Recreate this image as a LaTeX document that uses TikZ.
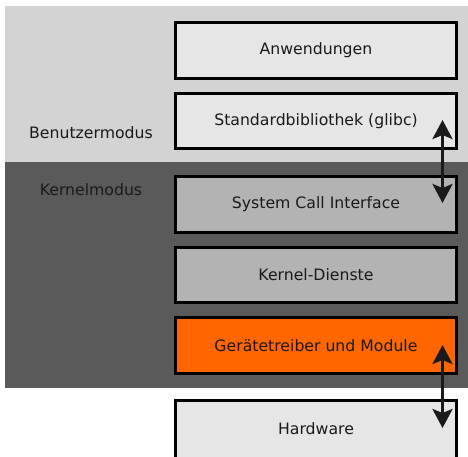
\documentclass[tikz,border=0pt]{standalone}
\usepackage{fontspec}
\setmainfont{DejaVu Sans}
\usepackage{xcolor}
\usepackage{tikz}
\usetikzlibrary{arrows.meta}
\usetikzlibrary{positioning}
\definecolor{userbg}{HTML}{D3D3D3}
\definecolor{kernbg}{HTML}{5A5A5A}
\definecolor{userbox}{HTML}{E6E6E6}
\definecolor{kernbox}{HTML}{B3B3B3}
\definecolor{drvbox}{HTML}{FF6600}
\definecolor{ink}{HTML}{1A1A1A}
\tikzset{>={Stealth[length=19pt, width=20pt, inset=4pt]}}
\tikzstyle{layer} = [rectangle, draw=black, line width=3pt, outer sep=0pt, minimum width=281pt, minimum height=55.5pt, text=ink, font=\fontsize{15.7}{18}\selectfont]
\tikzstyle{mode} = [draw=none, text=ink, font=\fontsize{15.7}{18}\selectfont]
\tikzstyle{call} = [<->, line width=3pt, draw=ink]

\begin{document}
\begin{tikzpicture}[x=1pt, y=-1pt]
\useasboundingbox (0, 0) rectangle (468, 456);
\fill [white] (0, 0) rectangle (468, 456);
\fill [userbg] (5, 6) rectangle (468, 161.5);
\fill [kernbg] (5, 161.5) rectangle (468, 388);
\clip (0, 0) rectangle (468, 456);
%\node [mode] at (91, 100) {Modus};
\node [mode] (user) at (91, 133) {Benutzermodus};
\node [mode] (kern) at (91, 190) {Kernelmodus};
\node [layer, fill=userbox, anchor=north] (apps) at (316, 22.5) {Anwendungen};
\node [layer, fill=userbox, below=15pt of apps] (glibc) {Standardbibliothek (glibc)};
\node [layer, fill=kernbox, below=28pt of glibc] (sci) {System Call Interface};
\node [layer, fill=kernbox, below=15pt of sci] (svc) {Kernel-Dienste};
\node [layer, fill=drvbox, below=15pt of svc] (drv) {Gerätetreiber und Module};
\node [layer, fill=userbox, below=27.7pt of drv, minimum height=62pt, text depth=6.5pt] (hw) {Hardware};
\coordinate (glibcend) at (442.5, 120);
\coordinate (sciend) at (442.5, 203);
\coordinate (drvend) at (442.5, 345);
\coordinate (hwend) at (442.5, 428);
\draw [call] (sciend) to (glibcend);
\draw [call] (hwend) to (drvend);
\end{tikzpicture}
\end{document}
